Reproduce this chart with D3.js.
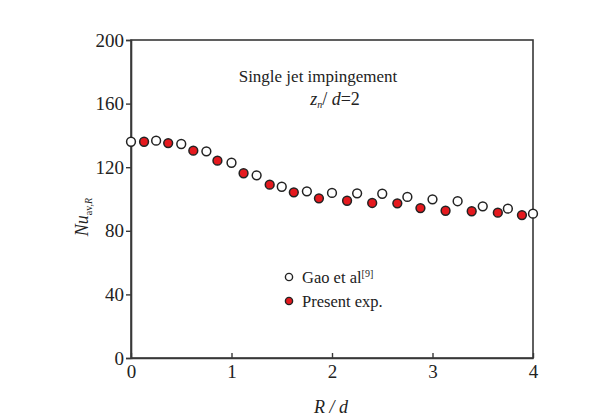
<!DOCTYPE html>
<html>
<head>
<meta charset="utf-8">
<script src="https://cdn.jsdelivr.net/npm/d3@7"></script>
<style>
  html, body { margin: 0; padding: 0; background: #ffffff; }
  svg { display: block; }
  svg text { font-family: "Liberation Serif", "Times New Roman", Times, "DejaVu Serif", serif; }
</style>
</head>
<body>
<svg id="chart" width="616" height="418"></svg>
<script>
// Average Nusselt number vs radial distance, single jet impingement (z_n/d = 2)
const gaoR   = [0, 0.25, 0.5, 0.75, 1.0, 1.25, 1.5, 1.75, 2.0, 2.25, 2.5, 2.75, 3.0, 3.25, 3.5, 3.75, 4.0];
const gaoNu  = [136.0, 136.7, 134.6, 130.0, 122.8, 114.9, 107.7, 104.8, 103.8, 103.6, 103.3, 101.3, 99.8, 98.6, 95.4, 93.9, 90.8];
const expR   = [0.13, 0.37, 0.62, 0.86, 1.12, 1.38, 1.62, 1.87, 2.15, 2.40, 2.65, 2.88, 3.13, 3.39, 3.65, 3.89];
const expNu  = [136.0, 135.2, 130.4, 124.1, 116.2, 109.0, 104.2, 100.4, 98.9, 97.5, 97.3, 94.3, 92.6, 92.3, 91.4, 89.9];
const xTicks = [0, 1, 2, 3, 4];
const yTicks = [0, 40, 80, 120, 160, 200];

const SERIF = "'Liberation Serif', 'Times New Roman', Times, serif";
const svg = d3.select("#chart");
const axisColor = "#383838";
const x = d3.scaleLinear().domain([0, 4]).range([131, 533]);
const y = d3.scaleLinear().domain([0, 200]).range([358, 40]);

// Frame: top and right borders
svg.append("rect")
  .attr("x", x(0)).attr("y", y(200))
  .attr("width", x(4) - x(0)).attr("height", y(0) - y(200))
  .attr("fill", "none").attr("stroke", axisColor).attr("stroke-width", 1.6);

// Y axis (ticks outward)
const yAxis = svg.append("g")
  .attr("transform", `translate(${x(0)},0)`)
  .call(d3.axisLeft(y).tickValues(yTicks).tickSize(5).tickPadding(2).tickFormat(d3.format("d")));
// X axis (ticks inward)
const xAxis = svg.append("g")
  .attr("transform", `translate(0,${y(0)})`)
  .call(d3.axisBottom(x).tickValues(xTicks).tickSizeInner(-5).tickSizeOuter(0).tickPadding(7).tickFormat(d3.format("d")));

[yAxis, xAxis].forEach(g => {
  g.attr("font-family", SERIF).attr("font-size", 19);
  g.select(".domain").attr("stroke", axisColor).attr("stroke-width", 1.6);
  g.selectAll(".tick line").attr("stroke", axisColor).attr("stroke-width", 1.4);
  g.selectAll(".tick text").attr("fill", "#222");
});

// Data markers
const pts = svg.append("g");
pts.selectAll("circle.gao")
  .data(d3.zip(gaoR, gaoNu))
  .join("circle").attr("class", "gao")
  .attr("cx", d => x(d[0])).attr("cy", d => y(d[1])).attr("r", 4.4)
  .attr("fill", "#ffffff").attr("stroke", "#222").attr("stroke-width", 1.5);
pts.selectAll("circle.exp")
  .data(d3.zip(expR, expNu))
  .join("circle").attr("class", "exp")
  .attr("cx", d => x(d[0])).attr("cy", d => y(d[1])).attr("r", 4.4)
  .attr("fill", "#e5191e").attr("stroke", "#222").attr("stroke-width", 1.5);

// Annotation
svg.append("text")
  .attr("x", 318).attr("y", 82).attr("text-anchor", "middle")
  .attr("font-family", SERIF)
  .attr("fill", "#222").attr("font-size", 17)
  .text("Single jet impingement");

const cond = svg.append("text")
  .attr("x", 335).attr("y", 105).attr("text-anchor", "middle")
  .attr("font-family", SERIF)
  .attr("fill", "#222").attr("font-size", 18);
cond.append("tspan").attr("font-style", "italic").text("z");
cond.append("tspan").attr("font-style", "italic").attr("font-size", 10).attr("dy", 3).text("n");
cond.append("tspan").attr("dy", -3).text("/ ");
cond.append("tspan").attr("font-style", "italic").text("d");
cond.append("tspan").text("=2");

// Legend
const legend = svg.append("g").attr("font-family", SERIF);
const legendItems = [
  { y: 277, fill: "#ffffff", label: "Gao et al", sup: "[9]" },
  { y: 301, fill: "#e5191e", label: "Present exp.", sup: null }
];
legendItems.forEach(item => {
  legend.append("circle")
    .attr("cx", 289).attr("cy", item.y).attr("r", 3.6)
    .attr("fill", item.fill).attr("stroke", "#222").attr("stroke-width", 1.4);
  const t = legend.append("text")
    .attr("x", 302).attr("y", item.y + 5.5)
    .attr("fill", "#222").attr("font-size", 16.5)
    .text(item.label);
  if (item.sup) {
    t.append("tspan").attr("dy", -6).attr("font-size", 10).text(item.sup);
  }
});

// Axis titles
const yTitle = svg.append("text")
  .attr("transform", "translate(88,217) rotate(-90)")
  .attr("text-anchor", "middle")
  .attr("font-family", SERIF)
  .attr("fill", "#222").attr("font-size", 18);
yTitle.append("tspan").attr("font-style", "italic").text("Nu");
yTitle.append("tspan").attr("font-size", 10).attr("dy", 4).text("av,");
yTitle.append("tspan").attr("font-size", 10).attr("font-style", "italic").text("R");

svg.append("text")
  .attr("x", 331).attr("y", 413).attr("text-anchor", "middle")
  .attr("font-family", SERIF)
  .attr("fill", "#222").attr("font-size", 18).attr("font-style", "italic")
  .text("R / d");
</script>
</body>
</html>
